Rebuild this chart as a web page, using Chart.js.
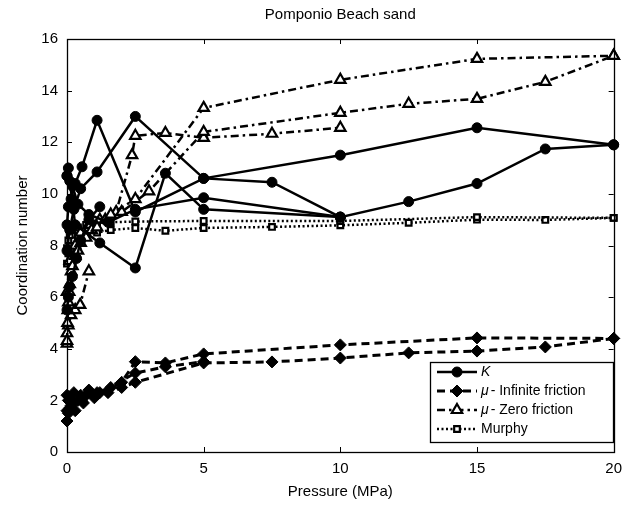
<!DOCTYPE html>
<html>
<head>
<meta charset="utf-8">
<script src="https://cdn.jsdelivr.net/npm/chart.js@4.4.1/dist/chart.umd.min.js"></script>
<style>
html, body { margin: 0; padding: 0; background: #fff; }
</style>
</head>
<body>
<canvas id="chart" width="630" height="506"></canvas>
<script>
const FONT = "'Liberation Sans', Arial, Helvetica, sans-serif";

// axis ticks
const xTicks = [0, 5, 10, 15, 20];
const yTicks = [0, 2, 4, 6, 8, 10, 12, 14, 16];

// K (solid, filled circles)
const kPressA = [0, 0.05, 0.15, 0.3, 0.55, 1.1, 2.5, 5, 10, 15, 20];
const kCoordA = [8.8, 9.5, 9.8, 10.4, 11.05, 12.85, 9.3, 10.6, 11.5, 12.56, 11.9];
const kPressB = [0, 0.1, 0.25, 0.5, 1.1, 2.5, 5, 7.5, 10, 12.5, 15, 17.5, 20];
const kCoordB = [7.8, 8.6, 9.4, 10.2, 10.85, 13.0, 10.6, 10.45, 9.1, 9.7, 10.4, 11.74, 11.9];
const kPressC = [0, 0.1, 0.3, 1.2, 2.5, 3.6, 5, 10];
const kCoordC = [10.7, 10.5, 8.8, 8.1, 7.13, 10.8, 9.4, 9.1];
const kPressD = [0, 0.05, 0.2, 0.4, 0.8, 1.5, 2.5, 5, 10];
const kCoordD = [10.7, 11.0, 10.3, 9.6, 9.2, 8.9, 9.4, 9.85, 9.1];
const kPressE = [0, 0.05, 0.1, 0.2, 0.35, 0.5, 0.8, 1.2];
const kCoordE = [5.5, 6.0, 6.4, 6.8, 7.5, 8.2, 9.0, 9.5];

// mu - infinite friction (dashed, diamonds)
const infPressA = [0, 0.05, 0.1, 0.2, 0.4, 0.7, 1.1, 1.6, 2.0, 2.5, 3.6, 5, 10, 15, 20];
const infCoordA = [1.2, 1.5, 1.7, 1.9, 2.0, 2.2, 2.3, 2.5, 2.7, 3.5, 3.45, 3.8, 4.15, 4.42, 4.4];
const infPressB = [0, 0.05, 0.15, 0.3, 0.6, 1.0, 1.5, 2.0, 2.5, 5, 7.5, 10, 12.5, 15, 17.5, 20];
const infCoordB = [2.2, 2.0, 1.8, 1.6, 1.9, 2.1, 2.3, 2.5, 2.7, 3.45, 3.49, 3.64, 3.84, 3.91, 4.07, 4.4];
const infPressC = [0, 0.1, 0.25, 0.5, 0.8, 1.2, 2.5, 3.6, 5];
const infCoordC = [1.6, 2.1, 2.3, 2.2, 2.4, 2.3, 3.06, 3.3, 3.5];

// mu - zero friction (dash-dot, open triangles)
const zeroPressA = [0, 0.02, 0.05, 0.1, 0.2, 0.4, 0.7, 1.1, 1.6, 2.5, 5, 10, 15, 20];
const zeroCoordA = [4.3, 5.0, 5.8, 6.5, 7.2, 7.8, 8.3, 8.7, 9.2, 9.8, 13.33, 14.42, 15.23, 15.35];
const zeroPressB = [0, 0.03, 0.08, 0.15, 0.3, 0.5, 0.9, 1.4, 2.0, 3.0, 5, 10, 12.5, 15, 17.5, 20];
const zeroCoordB = [4.6, 5.5, 6.2, 7.0, 7.6, 8.1, 8.6, 9.0, 9.3, 10.1, 12.4, 13.14, 13.49, 13.68, 14.34, 15.35];
const zeroPressC = [0, 0.1, 0.3, 0.5, 0.8, 1.2, 1.8, 2.38, 2.5, 3.6, 5, 7.5, 10];
const zeroCoordC = [6.2, 7.4, 8.0, 8.5, 8.8, 9.0, 9.3, 11.5, 12.25, 12.36, 12.17, 12.33, 12.56];
const zeroPressD = [0, 0.05, 0.15, 0.3, 0.48, 0.8];
const zeroCoordD = [4.2, 4.9, 5.3, 5.5, 5.7, 7.0];

// Murphy (dotted, open squares)
const murPressA = [0, 0.05, 0.1, 0.2, 0.4, 0.7, 1.1, 1.6, 2.5, 5, 10, 15, 20];
const murCoordA = [7.9, 8.2, 8.4, 8.6, 8.7, 8.8, 8.85, 8.9, 8.93, 8.95, 8.95, 9.1, 9.07];
const murPressB = [0, 0.05, 0.1, 0.2, 0.4, 0.7, 1.1, 1.6, 2.5, 3.6, 5, 7.5, 10, 12.5, 15, 17.5, 20];
const murCoordB = [7.3, 7.7, 8.0, 8.2, 8.35, 8.45, 8.5, 8.6, 8.68, 8.57, 8.68, 8.72, 8.78, 8.88, 9.0, 8.99, 9.07];

const styles = {
    K: { borderDash: [], borderWidth: 2.5, pointStyle: "circle", pointRadius: 5, pointBackgroundColor: "#000", pointBorderWidth: 1 },
    inf: { borderDash: [8, 5], borderWidth: 3, pointStyle: "rectRot", pointRadius: 6, pointBackgroundColor: "#000", pointBorderWidth: 1 },
    zero: { borderDash: [8, 4, 2.5, 4], borderWidth: 2.5, pointStyle: "triangle", pointRadius: 6, pointBackgroundColor: "#fff", pointBorderWidth: 2.2 },
    mur: { borderDash: [2, 2.5], borderWidth: 2.5, pointStyle: "rect", pointRadius: 4, pointBackgroundColor: "#fff", pointBorderWidth: 2.2 }
};

function path(xs, ys) {
    return xs.map((x, i) => ({ x: x, y: ys[i] }));
}

function makeSet(kind, xs, ys) {
    return Object.assign({
        label: kind,
        data: path(xs, ys),
        borderColor: "#000",
        pointBorderColor: "#000",
        fill: false,
        tension: 0,
        clip: false
    }, styles[kind]);
}

const datasets = [
    makeSet("K", kPressA, kCoordA),
    makeSet("K", kPressB, kCoordB),
    makeSet("K", kPressC, kCoordC),
    makeSet("K", kPressD, kCoordD),
    makeSet("K", kPressE, kCoordE),
    makeSet("inf", infPressA, infCoordA),
    makeSet("inf", infPressB, infCoordB),
    makeSet("inf", infPressC, infCoordC),
    makeSet("zero", zeroPressA, zeroCoordA),
    makeSet("zero", zeroPressB, zeroCoordB),
    makeSet("zero", zeroPressC, zeroCoordC),
    makeSet("zero", zeroPressD, zeroCoordD),
    makeSet("mur", murPressA, murCoordA),
    makeSet("mur", murPressB, murCoordB)
];

const legendRows = [
    { kind: "K", italic: "K", text: "" },
    { kind: "inf", italic: "\u03bc", text: "- Infinite friction" },
    { kind: "zero", italic: "\u03bc", text: "- Zero friction" },
    { kind: "mur", italic: "", text: "Murphy" }
];

// box, inward ticks and the legend, MATLAB style
const frameAndLegend = {
    id: "frameAndLegend",
    afterDatasetsDraw(chart) {
        const { ctx, chartArea: a, scales: { x, y } } = chart;
        ctx.save();
        ctx.strokeStyle = "#000";
        ctx.lineWidth = 1;
        ctx.setLineDash([]);

        function seg(x1, y1, x2, y2) {
            ctx.beginPath();
            ctx.moveTo(x1, y1);
            ctx.lineTo(x2, y2);
            ctx.stroke();
        }

        xTicks.forEach(v => {
            const px = Math.round(x.getPixelForValue(v)) + 0.5;
            seg(px, a.bottom, px, a.bottom - 5);
            seg(px, a.top, px, a.top + 5);
        });
        yTicks.forEach(v => {
            const py = Math.round(y.getPixelForValue(v)) + 0.5;
            seg(a.left, py, a.left + 5, py);
            seg(a.right, py, a.right - 5, py);
        });
        ctx.lineWidth = 1.3;
        ctx.strokeRect(Math.round(a.left) + 0.5, Math.round(a.top) + 0.5,
            Math.round(a.right - a.left), Math.round(a.bottom - a.top));

        // legend box
        const bx = 430, by = 362, bw = 183, bh = 80;
        ctx.fillStyle = "#fff";
        ctx.fillRect(bx, by, bw, bh);
        ctx.lineWidth = 1.3;
        ctx.strokeRect(bx + 0.5, by + 0.5, bw, bh);

        const rowY = [372, 391, 410, 429];
        legendRows.forEach((row, i) => {
            const st = styles[row.kind];
            const ly = rowY[i];
            ctx.strokeStyle = "#000";
            ctx.lineWidth = st.borderWidth;
            ctx.setLineDash(st.borderDash);
            seg(437, ly, 477, ly);
            ctx.setLineDash([]);
            ctx.fillStyle = st.pointBackgroundColor;
            ctx.lineWidth = st.pointBorderWidth;
            Chart.helpers.drawPoint(ctx, {
                pointStyle: st.pointStyle, radius: st.pointRadius,
                rotation: 0, borderWidth: st.pointBorderWidth
            }, 457, ly);

            ctx.fillStyle = "#000";
            ctx.textBaseline = "middle";
            ctx.textAlign = "left";
            let tx = 481;
            if (row.italic) {
                ctx.font = "italic 14px " + FONT;
                ctx.fillText(row.italic, tx, ly);
                tx += ctx.measureText(row.italic).width + 2;
            }
            if (row.text) {
                ctx.font = "14px " + FONT;
                ctx.fillText(row.text, tx, ly);
            }
        });
        ctx.restore();
    }
};

new Chart(document.getElementById("chart"), {
    type: "line",
    data: { datasets: datasets },
    plugins: [frameAndLegend],
    options: {
        responsive: false,
        animation: false,
        devicePixelRatio: 1,
        layout: { padding: { left: 0, right: 16, top: 0, bottom: 0 } },
        plugins: {
            legend: { display: false },
            tooltip: { enabled: false },
            title: {
                display: true,
                text: "Pomponio Beach sand",
                color: "#000",
                fullSize: false,
                font: { family: FONT, size: 15, weight: "normal", lineHeight: 1.2 },
                padding: { top: 6, bottom: 15 }
            }
        },
        scales: {
            x: {
                type: "linear",
                min: 0,
                max: 20,
                grid: { display: false, drawTicks: false },
                border: { display: false },
                ticks: { stepSize: 5, padding: 8, color: "#000", font: { family: FONT, size: 15 } },
                title: {
                    display: true, text: "Pressure (MPa)", color: "#000",
                    font: { family: FONT, size: 15 }, padding: { top: 0, bottom: 5 }
                },
                afterFit(scale) { scale.height = 54; }
            },
            y: {
                type: "linear",
                min: 0,
                max: 16,
                grid: { display: false, drawTicks: false },
                border: { display: false },
                ticks: { stepSize: 2, padding: 9, color: "#000", font: { family: FONT, size: 15 } },
                title: {
                    display: true, text: "Coordination number", color: "#000",
                    font: { family: FONT, size: 15 }, padding: { top: 14, bottom: 0 }
                },
                afterFit(scale) { scale.width = 67; }
            }
        }
    }
});
</script>
</body>
</html>
